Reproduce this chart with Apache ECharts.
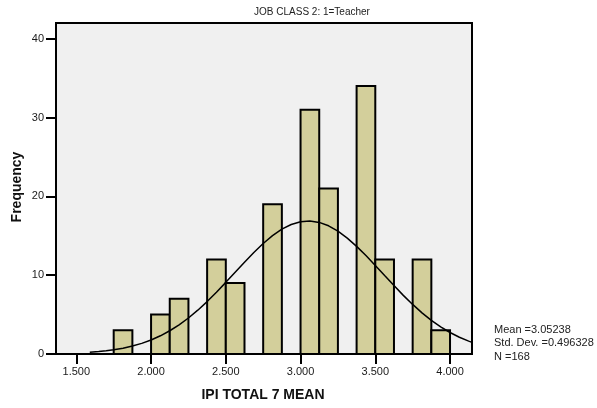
<!DOCTYPE html>
<html>
<head>
<meta charset="utf-8">
<script src="https://cdn.jsdelivr.net/npm/echarts@6/dist/echarts.min.js"></script>
<style>html,body{margin:0;padding:0;background:#fff;}#c{width:597px;height:408px;}</style>
</head>
<body>
<div id="c"></div>
<script>
// Histogram bins (left edge, right edge) and counts
var binStart = [1.750, 2.000, 2.125, 2.375, 2.500, 2.750, 3.000, 3.125, 3.375, 3.500, 3.750, 3.875];
var binEnd   = [1.875, 2.125, 2.250, 2.500, 2.625, 2.875, 3.125, 3.250, 3.500, 3.625, 3.875, 4.000];
var counts   = [3, 5, 7, 12, 9, 19, 31, 21, 34, 12, 12, 3];
// Normal curve
var curveX = [1.59, 1.65, 1.70, 1.75, 1.8125, 1.875, 1.9375, 2.0, 2.0625, 2.125, 2.1875, 2.25, 2.3125, 2.375, 2.4375, 2.5, 2.5625, 2.625, 2.6875, 2.75, 2.8125, 2.875, 2.9375, 3.0, 3.0625, 3.125, 3.1875, 3.25, 3.3125, 3.375, 3.4375, 3.5, 3.5625, 3.625, 3.6875, 3.75, 3.8125, 3.875, 3.9375, 4.0, 4.0625, 4.125, 4.147];
var curveY = [0.22, 0.31, 0.41, 0.54, 0.74, 1.01, 1.35, 1.78, 2.31, 2.95, 3.70, 4.57, 5.56, 6.65, 7.84, 9.09, 10.37, 11.65, 12.88, 14.02, 15.02, 15.84, 16.43, 16.79, 16.88, 16.70, 16.27, 15.59, 14.71, 13.66, 12.49, 11.24, 9.95, 8.68, 7.44, 6.29, 5.22, 4.27, 3.44, 2.73, 2.13, 1.63, 1.48];
var xTicks = [1.5, 2.0, 2.5, 3.0, 3.5, 4.0];
var yTicks = [0, 10, 20, 30, 40];
var titleText = 'JOB CLASS 2: 1=Teacher';
var xName = 'IPI TOTAL 7 MEAN';
var yName = 'Frequency';
var statsLines = ['Mean =3.05238', 'Std. Dev. =0.496328', 'N =168'];

var FONT = '"Liberation Sans", Arial, sans-serif';
var barData = binStart.map(function (s, i) { return [s, binEnd[i], counts[i]]; });
var lineData = curveX.map(function (x, i) { return [x, curveY[i]]; });

var chart = echarts.init(document.getElementById('c'), null, {renderer: 'canvas'});
chart.setOption({
  animation: false,
  backgroundColor: '#ffffff',
  grid: {left: 56, top: 23, right: 125, bottom: 54, show: true, backgroundColor: '#f0f0f0', borderColor: '#000', borderWidth: 2},
  xAxis: {
    type: 'value', min: 1.364, max: 4.147,
    axisLine: {show: false},
    splitLine: {show: false},
    axisTick: {show: true, inside: false, length: 10, lineStyle: {color: '#000', width: 2}, customValues: xTicks},
    axisLabel: {show: true, margin: 12, color: '#1a1a1a', fontFamily: FONT, fontSize: 11, customValues: xTicks,
      formatter: function (v) { return v.toFixed(3); }}
  },
  yAxis: {
    type: 'value', min: 0, max: 42,
    axisLine: {show: false},
    splitLine: {show: false},
    axisTick: {show: true, inside: false, length: 10, lineStyle: {color: '#000', width: 2}, customValues: yTicks},
    axisLabel: {show: true, margin: 12, color: '#1a1a1a', fontFamily: FONT, fontSize: 11, customValues: yTicks}
  },
  series: [
    {
      type: 'custom',
      data: barData,
      encode: {x: [0, 1], y: 2},
      renderItem: function (params, api) {
        var p0 = api.coord([api.value(0), api.value(2)]);
        var p1 = api.coord([api.value(1), 0]);
        return {
          type: 'rect',
          shape: {x: p0[0], y: p0[1], width: p1[0] - p0[0], height: p1[1] - p0[1]},
          style: {fill: '#d3cf9b', stroke: '#000', lineWidth: 2}
        };
      },
      z: 2
    },
    {
      type: 'line',
      data: lineData,
      showSymbol: false,
      symbol: 'none',
      lineStyle: {color: '#000', width: 1.5},
      z: 3
    }
  ],
  graphic: [
    {type: 'text', style: {text: titleText, x: 312, y: 12, align: 'center', verticalAlign: 'middle', font: '10px ' + FONT, fill: '#222'}},
    {type: 'text', style: {text: xName, x: 263, y: 395, align: 'center', verticalAlign: 'middle', font: 'bold 14px ' + FONT, fill: '#111'}},
    {type: 'text', rotation: Math.PI / 2, x: 17, y: 187, style: {text: yName, x: 0, y: 0, align: 'center', verticalAlign: 'middle', font: 'bold 14px ' + FONT, fill: '#111'}},
    {type: 'text', style: {text: statsLines[0], x: 494, y: 330, verticalAlign: 'middle', font: '11px ' + FONT, fill: '#222'}},
    {type: 'text', style: {text: statsLines[1], x: 494, y: 343, verticalAlign: 'middle', font: '11px ' + FONT, fill: '#222'}},
    {type: 'text', style: {text: statsLines[2], x: 494, y: 357, verticalAlign: 'middle', font: '11px ' + FONT, fill: '#222'}}
  ]
});
</script>
</body>
</html>
